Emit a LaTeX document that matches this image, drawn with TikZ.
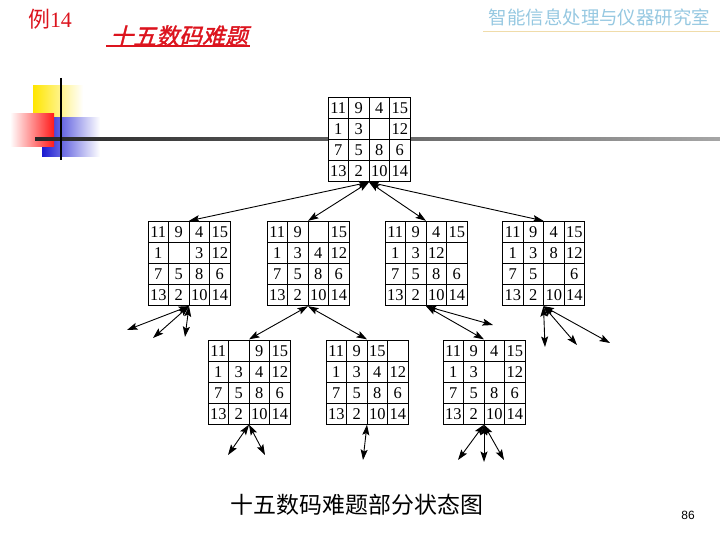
\documentclass[tikz,border=0pt]{standalone}
\usepackage{fontspec}
\usepackage{tikz}
\usetikzlibrary{arrows,arrows.meta,matrix,positioning}
\newfontfamily\cjk{Noto Sans CJK SC}
\newfontfamily\cjkslant{Noto Sans CJK SC}[FakeSlant=0.25,FakeBold=1.5]
\newfontfamily\tnr{Liberation Serif}
\newfontfamily\arial{Liberation Sans}
\definecolor{slidered}{RGB}{220,20,30}
\definecolor{labblue}{RGB}{150,200,225}
\definecolor{labline}{RGB}{240,220,170}
\tikzset{
  cell/.style={draw, fill=white, line width=0.9pt, minimum width=20.5bp,
    minimum height=21bp, inner sep=0pt, anchor=center, text height=11bp,
    text depth=0pt, font=\tnr\fontsize{16.5}{16.5}\selectfont},
  board/.style={matrix of nodes, nodes in empty cells, inner sep=0pt,
    column sep=-0.9pt, row sep=-0.9pt, nodes={cell}},
  move/.style={{Stealth[length=10.5bp,width=7bp,inset=2bp]}-{Stealth[length=10.5bp,width=7bp,inset=2bp]},
    line width=0.9pt},
}

\begin{document}
\begin{tikzpicture}[x=1bp,y=-1bp]
\useasboundingbox (0,0) rectangle (720,540);
% slide decoration
\shade[left color=yellow!80!orange, right color=white] (33,86) rectangle (83,118);
\shade[left color=blue!80!black!90, right color=white] (42,118) rectangle (100,157);
\shade[left color=white, right color=red!90] (10,114) rectangle (54,147);
\shade[left color=black!85, right color=black!35] (35,137.5) rectangle (720,140.5);
\draw[line width=2.5pt] (61,78) -- (61,160);
% header
\node (ex) at (50,19) {\color{slidered}\fontsize{22}{22}\selectfont\cjk 例\tnr 14};
\node (title) at (179,36) {\color{slidered}\fontsize{23}{23}\selectfont\cjkslant 十五数码难题};
\draw[slidered, line width=1.4pt] (106,46) -- (250,46);
\node (lab) at (599.5,17) {\color{labblue}\fontsize{18.5}{18.5}\selectfont\cjk 智能信息处理与仪器研究室};
\draw[labline, line width=0.8pt] (483,31) -- (720,31);
% boards
\matrix (root) [board] at (369,139.5) {
11 & 9 & 4 & 15 \\ 1 & 3 & & 12 \\ 7 & 5 & 8 & 6 \\ 13 & 2 & 10 & 14 \\};
\matrix (A) [board] at (189,263.5) {
11 & 9 & 4 & 15 \\ 1 & & 3 & 12 \\ 7 & 5 & 8 & 6 \\ 13 & 2 & 10 & 14 \\};
\matrix (B) [board] at (308,263.5) {
11 & 9 & & 15 \\ 1 & 3 & 4 & 12 \\ 7 & 5 & 8 & 6 \\ 13 & 2 & 10 & 14 \\};
\matrix (C) [board] at (426,263.5) {
11 & 9 & 4 & 15 \\ 1 & 3 & 12 & \\ 7 & 5 & 8 & 6 \\ 13 & 2 & 10 & 14 \\};
\matrix (D) [board] at (543.5,263.5) {
11 & 9 & 4 & 15 \\ 1 & 3 & 8 & 12 \\ 7 & 5 & & 6 \\ 13 & 2 & 10 & 14 \\};
\matrix (E) [board] at (249,382) {
11 & & 9 & 15 \\ 1 & 3 & 4 & 12 \\ 7 & 5 & 8 & 6 \\ 13 & 2 & 10 & 14 \\};
\matrix (F) [board] at (367,382) {
11 & 9 & 15 & \\ 1 & 3 & 4 & 12 \\ 7 & 5 & 8 & 6 \\ 13 & 2 & 10 & 14 \\};
\matrix (G) [board] at (484,382) {
11 & 9 & 4 & 15 \\ 1 & 3 & & 12 \\ 7 & 5 & 8 & 6 \\ 13 & 2 & 10 & 14 \\};
% free ends
\coordinate (a1) at (127,330);
\coordinate (a2) at (153,338);
\coordinate (a3) at (185,337);
\coordinate (c1) at (493,325);
\coordinate (d1) at (545,347);
\coordinate (d2) at (577,345);
\coordinate (d3) at (610,343);
\coordinate (e1) at (228,455);
\coordinate (e2) at (265,455);
\coordinate (f1) at (363,460);
\coordinate (g1) at (458,460);
\coordinate (g2) at (484,462);
\coordinate (g3) at (504,460);
% moves
\foreach \k in {A,B,C,D}
  \draw[move] (root.south) -- (\k.north);
\draw[move] (B.south) -- (E.north);
\draw[move] (B.south) -- (F.north);
\draw[move] (C.south) -- (G.north);
\draw[move] (C.south) -- (c1);
\foreach \k in {a1,a2,a3}
  \draw[move] (A.south) -- (\k);
\foreach \k in {d1,d2,d3}
  \draw[move] (D.south) -- (\k);
\foreach \k in {e1,e2}
  \draw[move] (E.south) -- (\k);
\draw[move] (F.south) -- (f1);
\foreach \k in {g1,g2,g3}
  \draw[move] (G.south) -- (\k);
% footer
\node (caption) at (357,505) {\fontsize{23}{23}\selectfont\cjk 十五数码难题部分状态图};
\node (page) at (688,515) {\arial\fontsize{12}{12}\selectfont 86};
\end{tikzpicture}
\end{document}
